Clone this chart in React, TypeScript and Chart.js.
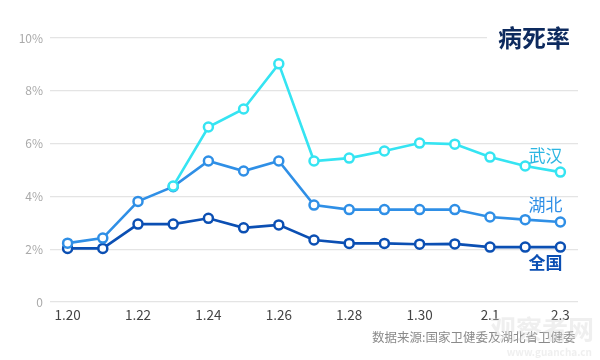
import React, { useEffect, useRef } from "react";
import { Chart, registerables } from "chart.js";

Chart.register(...registerables);

const categories = ["1.20","1.21","1.22","1.23","1.24","1.25","1.26","1.27","1.28","1.29","1.30","1.31","2.1","2.2","2.3"];
const wuhan = [null, null, null, 4.39, 6.63, 7.31, 9.02, 5.34, 5.45, 5.72, 6.02, 5.98, 5.49, 5.15, 4.92];
const hubei = [2.23, 2.42, 3.81, 4.37, 5.34, 4.96, 5.34, 3.67, 3.5, 3.5, 3.5, 3.5, 3.22, 3.12, 3.03];
const national = [2.03, 2.03, 2.95, 2.95, 3.17, 2.81, 2.92, 2.35, 2.22, 2.22, 2.19, 2.2, 2.08, 2.08, 2.08];
const seriesNames = ["武汉", "湖北", "全国"];
const seriesColors = ["#35e4f2", "#2f8fe6", "#0b4fb3"];
const labelColors = ["#2cb6e2", "#2f8fe6", "#0b4fb3"];
const title = "病死率";
const source = "数据来源:国家卫健委及湖北省卫健委";

const FONT = "'Noto Sans CJK SC', 'Noto Sans', sans-serif";

export default function App() {
  const ref = useRef<HTMLCanvasElement>(null);
  useEffect(() => {
    const ctx = ref.current!.getContext("2d")!;
    const overlay = {
      id: "overlay",
      afterDraw(chart: any) {
        const c = chart.ctx;
        const ys = chart.scales.y;
        const xs = chart.scales.x;
        c.save();
        c.fillStyle = "#ffffff";
        c.fillRect(487, ys.getPixelForValue(10) - 14, 113, 28);
        c.fillStyle = "#0d2a5e";
        c.font = `bold 24px ${FONT}`;
        c.textAlign = "right";
        c.textBaseline = "middle";
        c.fillText(title, 570, ys.getPixelForValue(10));
        const last = categories.length - 1;
        const lx = xs.getPixelForValue(last) + 2;
        const offs = [-17, -17, 15];
        const datasets = [wuhan, hubei, national];
        datasets.forEach((d, i) => {
          const v = d[last] as number;
          c.font = `${i === 2 ? "bold " : ""}17px ${FONT}`;
          c.fillStyle = labelColors[i];
          c.fillText(seriesNames[i], lx, ys.getPixelForValue(v) + offs[i]);
        });
        c.font = `12.5px ${FONT}`;
        c.fillStyle = "#8a8a8a";
        c.textAlign = "left";
        c.fillText(source, 372, 337);
        c.globalAlpha = 0.35;
        c.font = `bold 26px ${FONT}`;
        c.fillStyle = "#d0d0d0";
        c.textAlign = "right";
        c.fillText("观察者网", 594, 329);
        c.font = `bold 10px ${FONT}`;
        c.fillText("www.guancha.cn", 592, 352);
        c.restore();
      },
    };
    const mk = (data: any[], i: number) => ({
      label: seriesNames[i],
      data,
      borderColor: seriesColors[i],
      backgroundColor: "#ffffff",
      pointBackgroundColor: "#ffffff",
      pointBorderColor: seriesColors[i],
      pointRadius: 4.5,
      pointBorderWidth: 2.5,
      borderWidth: 2.6,
      tension: 0,
      spanGaps: false,
    });
    const chart = new Chart(ctx, {
      type: "line",
      data: {
        labels: categories,
        datasets: [mk(wuhan, 0), mk(hubei, 1), mk(national, 2)],
      },
      options: {
        animation: false,
        responsive: false,
        maintainAspectRatio: false,
        layout: { padding: { top: 38, right: 22, left: 0, bottom: 0 } },
        plugins: { legend: { display: false }, tooltip: { enabled: false }, title: { display: false } },
        scales: {
          x: {
            offset: true,
            grid: { display: false, drawTicks: false },
            border: { display: false },
            ticks: {
              autoSkip: false,
              maxRotation: 0,
              color: "#444444",
              font: { size: 13.5, family: FONT },
              padding: 5,
              callback: (_v: any, i: number) => (i % 2 === 0 ? categories[i] : ""),
            },
            afterFit: (s: any) => { s.height = 58; },
          },
          y: {
            min: 0,
            max: 10,
            grid: { color: "#e4e4e4", lineWidth: 1.3, drawTicks: false },
            border: { display: false },
            ticks: {
              stepSize: 2,
              color: "#aaaaaa",
              font: { size: 12, family: FONT },
              padding: 7,
              callback: (v: any) => (v === 0 ? "0" : v + "%"),
            },
            afterFit: (s: any) => { s.width = 50; },
          },
        },
      },
      plugins: [overlay],
    });
    return () => chart.destroy();
  }, []);
  return (
    <div style={{ position: "fixed", left: 0, top: 0, width: 600, height: 360, background: "#fff" }}>
      <canvas ref={ref} width={600} height={360} style={{ width: 600, height: 360 }} />
    </div>
  );
}
